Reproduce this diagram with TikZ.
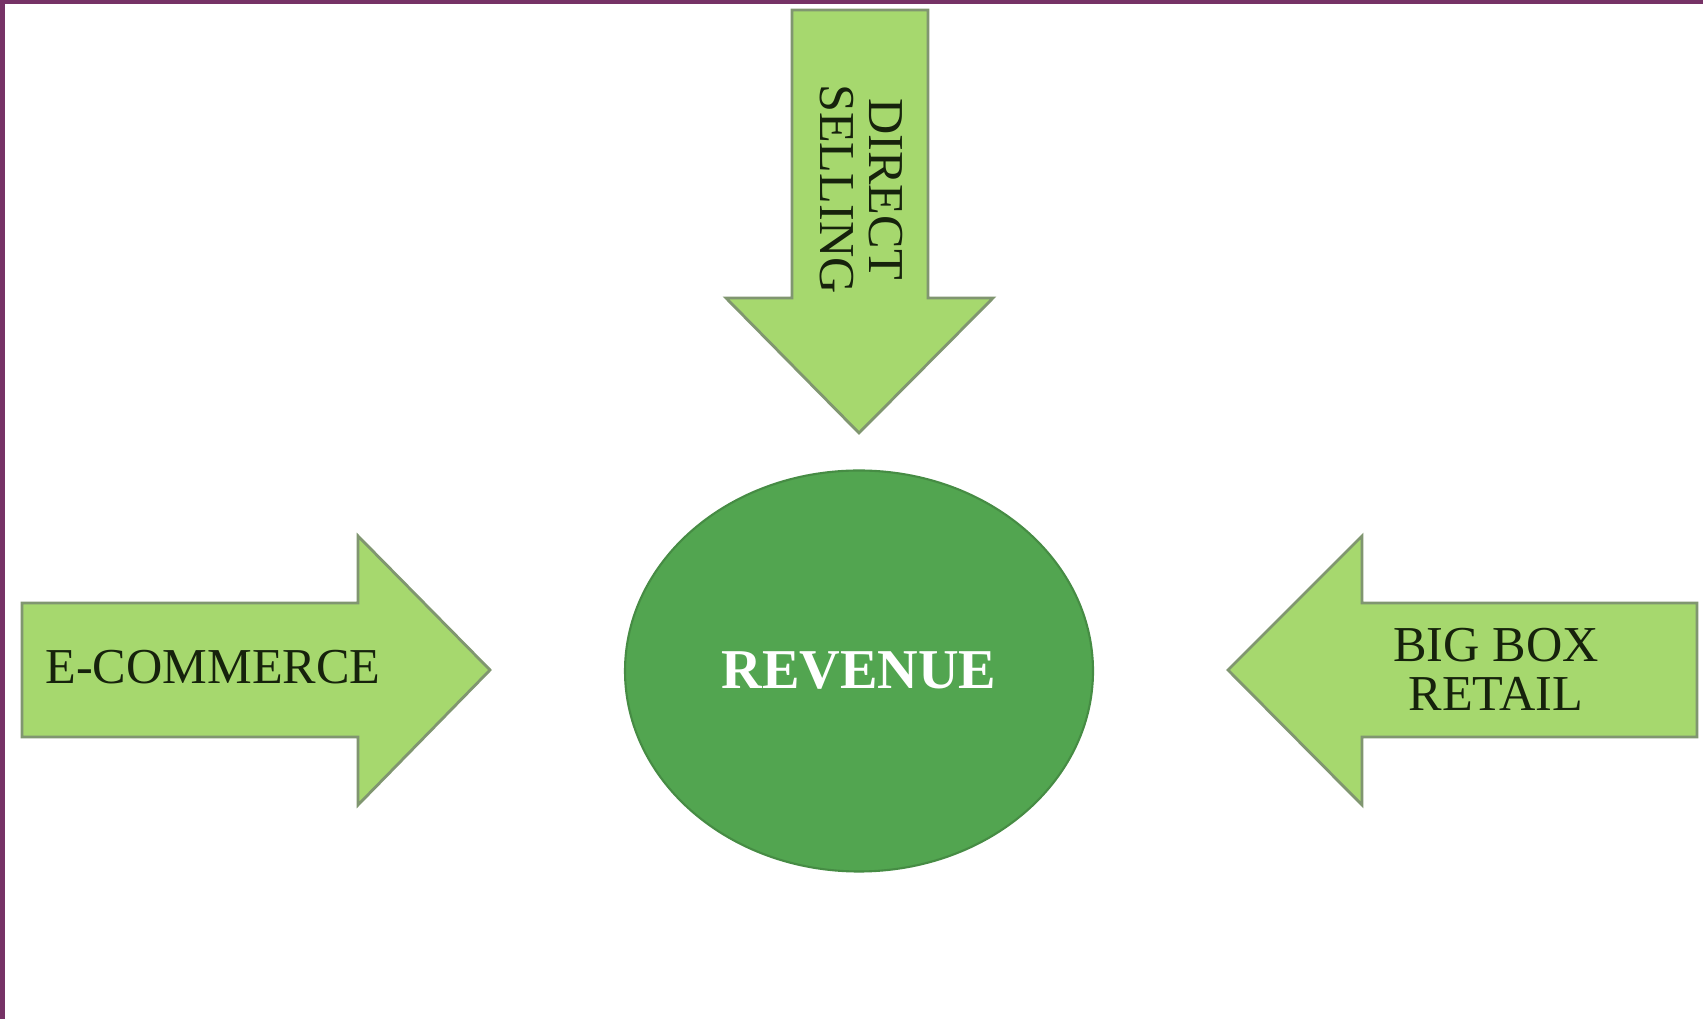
\documentclass[tikz,border=0pt]{standalone}
\usepackage{fontspec}
\setmainfont{Liberation Serif}
\usetikzlibrary{shapes.geometric}
\definecolor{frame}{RGB}{118,50,102}
\definecolor{lightgreen}{RGB}{166,216,110}
\definecolor{edgegreen}{RGB}{128,150,112}
\definecolor{darkgreen}{RGB}{82,165,80}
\definecolor{inkgreen}{RGB}{22,34,12}
\tikzset{
	channel/.style={fill=lightgreen, draw=edgegreen, line width=0.8pt, line join=miter},
	label/.style={text=inkgreen, align=center, inner sep=0pt, font=\fontsize{14.3}{14}\selectfont},
}
\begin{document}
\begin{tikzpicture}
	\useasboundingbox (0,0) rectangle (17.03,10.19);
	\fill[white] (0,0) rectangle (17.03,10.19);
	\fill[frame] (0,10.15) rectangle (17.03,10.19);
	\fill[frame] (0,0) rectangle (0.05,10.19);
	
	\draw[channel] (7.92,10.09) -- (9.28,10.09) -- (9.28,7.21) -- (9.93,7.21) -- (8.59,5.86) -- (7.26,7.21) -- (7.92,7.21) -- cycle;
	\draw[channel] (0.22,4.16) -- (3.58,4.16) -- (3.58,4.83) -- (4.90,3.49) -- (3.58,2.14) -- (3.58,2.82) -- (0.22,2.82) -- cycle;
	\draw[channel] (16.97,4.16) -- (13.62,4.16) -- (13.62,4.83) -- (12.28,3.49) -- (13.62,2.14) -- (13.62,2.82) -- (16.97,2.82) -- cycle;
	
	\node[draw=darkgreen!85!black, fill=darkgreen, ellipse, minimum width=4.68cm, minimum height=4.01cm, line width=0.6pt] (rev) at (8.59,3.48) {};
	\node[text=white, inner sep=0pt, font=\fontsize{16}{17}\selectfont\bfseries] (revtext) at (rev) {REVENUE};
	
	\node[label] (ecom) at (2.13,3.52) {E-COMMERCE};
	\node[label] (bigbox) at (14.96,3.50) {BIG BOX\\RETAIL};
	\node[label, rotate=-90] (direct) at (8.61,8.30) {DIRECT\\SELLING};
\end{tikzpicture}
\end{document}
